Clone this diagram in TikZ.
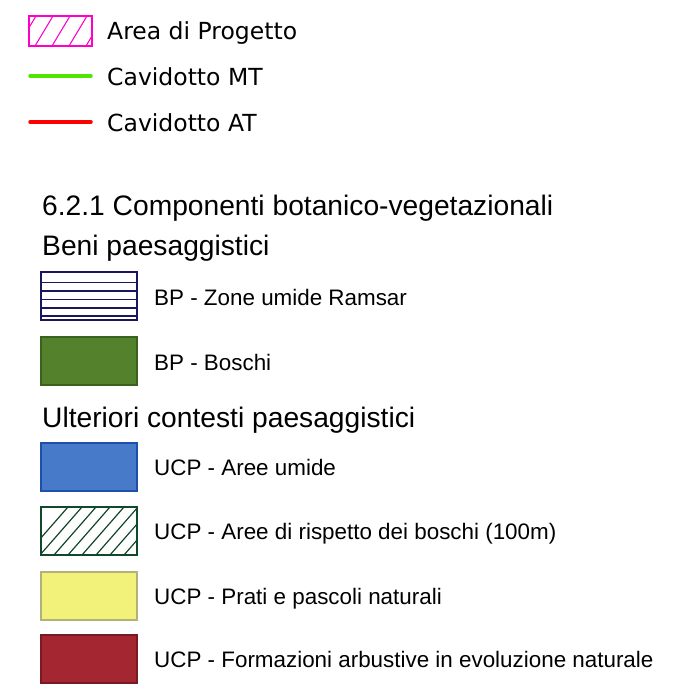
\documentclass[tikz,border=0pt]{standalone}
\usepackage{fontspec}
\setmainfont{Liberation Sans}
\newfontfamily\legfont{DejaVu Sans}
\begin{document}
\begin{tikzpicture}[x=1pt,y=-1pt,
 legtxt/.style={anchor=base west,inner sep=0pt,
 font=\legfont\fontsize{23.5}{28}\selectfont},
 headtxt/.style={anchor=base west,inner sep=0pt,
 font=\fontsize{28.2}{34}\selectfont},
 itemtxt/.style={anchor=base west,inner sep=0pt,
 font=\fontsize{22.4}{26}\selectfont}]
 \definecolor{c1}{RGB}{255,0,204}
 \definecolor{c2}{RGB}{76,230,0}
 \definecolor{c3}{RGB}{255,0,0}
 \definecolor{c4}{RGB}{24,22,92}
 \definecolor{c5}{RGB}{84,130,44}
 \definecolor{c5d}{RGB}{58,98,30}
 \definecolor{c6}{RGB}{72,122,202}
 \definecolor{c6d}{RGB}{30,80,170}
 \definecolor{c7}{RGB}{16,72,42}
 \definecolor{c8}{RGB}{242,242,122}
 \definecolor{c8d}{RGB}{178,178,120}
 \definecolor{c9}{RGB}{164,38,48}
 \definecolor{c9d}{RGB}{120,26,34}
 \useasboundingbox[fill=white] (0,0) rectangle (683,685);
 \begin{scope}
   \clip (29,16) rectangle (92,46);
   \foreach \xp in {0,...,5} {
     \draw[c1,line width=1.1pt] (18+\xp*17,46) -- ++(18,-30);
   }
 \end{scope}
 \draw[c1,line width=1.8pt] (29,16) rectangle (92,46);
 \draw[c2,line width=3.5pt,line cap=round] (30,76) -- (91,76);
 \draw[c3,line width=3.5pt,line cap=round] (30,122) -- (91,122);
 \node[legtxt] (prog) at (107,40) {Area di Progetto};
 \node[legtxt] (mt) at (107,85) {Cavidotto MT};
 \node[legtxt] (at) at (107,131) {Cavidotto AT};
 \node[headtxt] (comp) at (42,215) {6.2.1 Componenti botanico-vegetazionali};
 \node[headtxt] (beni) at (42,255) {Beni paesaggistici};
 \node[headtxt] (ult) at (42,427) {Ulteriori contesti paesaggistici};
 \foreach \yp in {282.5,291,299.5,308,316} {
   \draw[c4,line width=1.3pt] (41,\yp) -- (137,\yp);
 }
 \draw[c4,line width=2pt] (41,272) rectangle (137,320);
 \foreach \fc/\dc/\yp in {
   c5/c5d/337, c6/c6d/443,
   c8/c8d/572, c9/c9d/635
 } {
   \path[draw=\dc,fill=\fc,line width=1.6pt]
   (41,\yp) rectangle ++(96,48);
 }
 \begin{scope}
   \clip (41,507) rectangle (137,555);
   \foreach \xp in {0,...,10} {
     \draw[c7,line width=1.2pt] (26+\xp*14,555) -- ++(42,-48);
   }
 \end{scope}
 \draw[c7,line width=2pt] (41,507) rectangle (137,555);
 \node[itemtxt] (ramsar) at (154,305) {BP - Zone umide Ramsar};
 \node[itemtxt] (boschi) at (154,370) {BP - Boschi};
 \node[itemtxt] (umide) at (154,475) {UCP - Aree umide};
 \node[itemtxt] (risp) at (154,539) {UCP - Aree di rispetto dei boschi (100m)};
 \node[itemtxt] (prati) at (154,604) {UCP - Prati e pascoli naturali};
 \node[itemtxt] (arb) at (154,667) {UCP - Formazioni arbustive in evoluzione naturale};
\end{tikzpicture}
\end{document}
